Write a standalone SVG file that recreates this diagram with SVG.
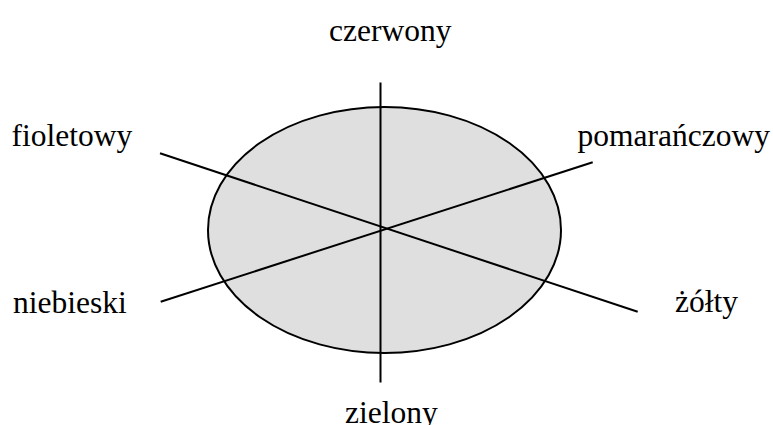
<svg xmlns="http://www.w3.org/2000/svg" width="773" height="425" viewBox="0 0 773 425">
  <style>
    .lbl { font-family: "Liberation Serif", "DejaVu Serif", serif; font-size: 31.5px; fill: #000; }
    .axis { stroke: #000; stroke-width: 2; fill: none; }
  </style>
  <rect width="773" height="425" fill="#fff"/>
  <!-- colour wheel body -->
  <g id="wheel">
    <ellipse cx="384.5" cy="230" rx="176.5" ry="123" fill="#dfdfdf" stroke="#000" stroke-width="2"/>
  </g>
  <!-- axes between complementary colours -->
  <g id="connectors">
    <line class="axis" x1="380.5" y1="82.5" x2="380.5" y2="382.5"/>
    <line class="axis" x1="160" y1="153.3" x2="637.7" y2="311.7"/>
    <line class="axis" x1="160.7" y1="301.7" x2="592.7" y2="162.3"/>
  </g>
  <g id="labels" font-family="Liberation Serif, DejaVu Serif, serif">
    <g id="czerwony"><text class="lbl" x="329" y="41">czerwony</text></g>
    <g id="pomaranczowy"><text class="lbl" x="577.5" y="146">pomarańczowy</text></g>
    <g id="zolty"><text class="lbl" x="675" y="312">żółty</text></g>
    <g id="zielony"><text class="lbl" x="345" y="423">zielony</text></g>
    <g id="niebieski"><text class="lbl" x="13" y="313">niebieski</text></g>
    <g id="fioletowy"><text class="lbl" x="11.5" y="146">fioletowy</text></g>
  </g>
</svg>
